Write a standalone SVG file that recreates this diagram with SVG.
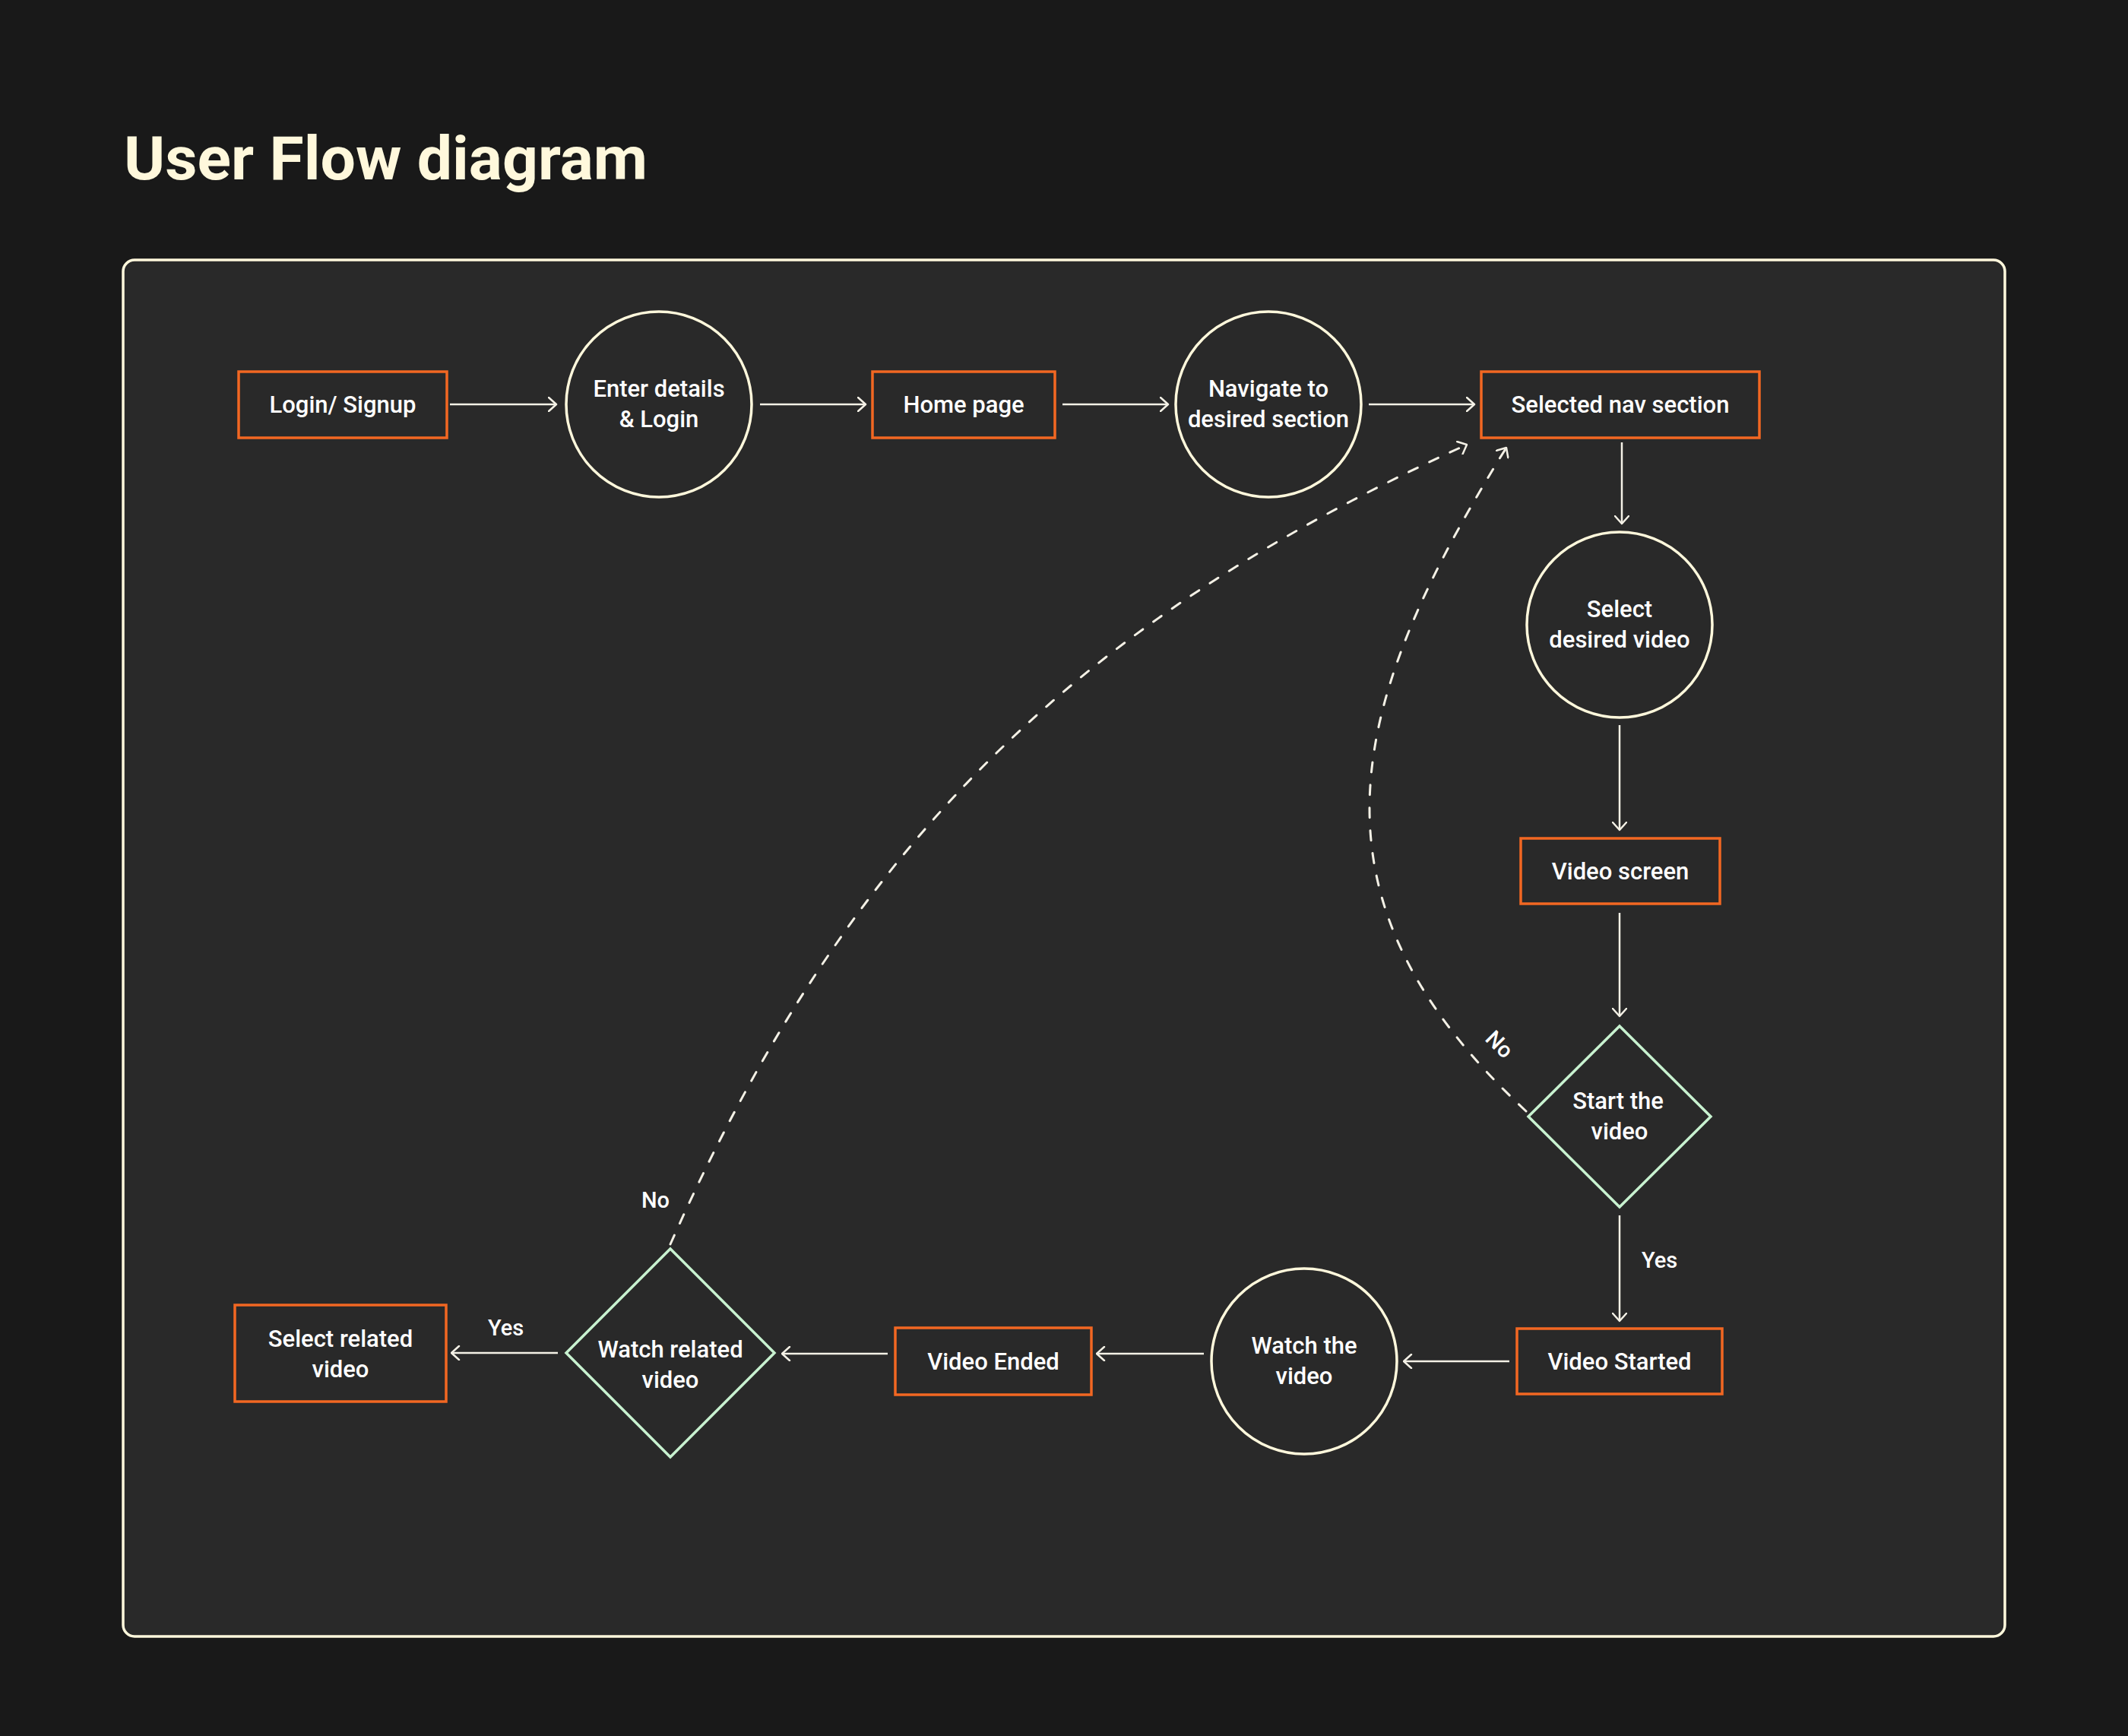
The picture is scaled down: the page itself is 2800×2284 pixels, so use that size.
<svg xmlns="http://www.w3.org/2000/svg" width="2800" height="2284" viewBox="0 0 2800 2284">
  <defs>
    <style>
      .box { fill: none; stroke: #F26722; stroke-width: 3.5; }
      .circ { fill: none; stroke: #FFF8DC; stroke-width: 3.5; }
      .dia { fill: none; stroke: #C8F2D0; stroke-width: 3.5; }
      .lbl { font-family: Roboto, "Liberation Sans", Arial, sans-serif; font-weight: 500; font-size: 31px; fill: #FFFFFF; text-anchor: middle; }
      .tag { font-family: Roboto, "Liberation Sans", Arial, sans-serif; font-weight: 500; font-size: 29px; fill: #FFFFFF; }
      .conn { fill: none; stroke: #F4F1E6; stroke-width: 2.5; }
      .dash { fill: none; stroke: #F4F1E6; stroke-width: 3; stroke-dasharray: 13 17; stroke-linecap: round; }
    </style>
    <marker id="arr" viewBox="0 0 13 20" refX="11.5" refY="10" markerWidth="13" markerHeight="20" markerUnits="userSpaceOnUse" orient="auto">
      <path d="M1.5,1 L11.5,10 L1.5,19" fill="none" stroke="#F4F1E6" stroke-width="2.5" stroke-linecap="round" stroke-linejoin="round"/>
    </marker>
  </defs>

  <rect x="0" y="0" width="2800" height="2284" fill="#191919"/>
  <text x="163" y="236" font-family="Roboto, 'Liberation Sans', Arial, sans-serif" font-weight="700" font-size="80" fill="#FFF8DC" textLength="689" lengthAdjust="spacingAndGlyphs">User Flow diagram</text>
  <rect id="panel" x="162" y="342" width="2476" height="1811" rx="15" ry="15" fill="#292929" stroke="#FFF8DC" stroke-width="3.5"/>

  <g id="connectors">
    <line class="conn" x1="592" y1="532" x2="732" y2="532" marker-end="url(#arr)"/>
    <line class="conn" x1="1000" y1="532" x2="1139" y2="532" marker-end="url(#arr)"/>
    <line class="conn" x1="1398" y1="532" x2="1537" y2="532" marker-end="url(#arr)"/>
    <line class="conn" x1="1801" y1="532" x2="1940" y2="532" marker-end="url(#arr)"/>
    <line class="conn" x1="2134" y1="582" x2="2134" y2="689" marker-end="url(#arr)"/>
    <line class="conn" x1="2131" y1="954" x2="2131" y2="1092" marker-end="url(#arr)"/>
    <line class="conn" x1="2131" y1="1201" x2="2131" y2="1337" marker-end="url(#arr)"/>
    <line class="conn" x1="2131" y1="1599" x2="2131" y2="1738" marker-end="url(#arr)"/>
    <line class="conn" x1="1986" y1="1791" x2="1847" y2="1791" marker-end="url(#arr)"/>
    <line class="conn" x1="1584" y1="1781" x2="1443" y2="1781" marker-end="url(#arr)"/>
    <line class="conn" x1="1168" y1="1781" x2="1029" y2="1781" marker-end="url(#arr)"/>
    <line class="conn" x1="734" y1="1780" x2="594" y2="1780" marker-end="url(#arr)"/>
    <path class="dash" d="M882,1637 C1122,1098 1425,815 1930,585" marker-end="url(#arr)"/>
    <path class="dash" d="M2008,1462 C1710,1184.6 1765.8,935.8 1982,589" marker-end="url(#arr)"/>
    <text class="tag" x="2160" y="1668">Yes</text>
    <text class="tag" x="642" y="1757">Yes</text>
    <text class="tag" x="844" y="1589">No</text>
    <text class="tag" x="0" y="10" text-anchor="middle" transform="translate(1973,1374) rotate(45)">No</text>
  </g>

  <g id="n1">
    <rect class="box" x="314" y="489" width="274" height="87"/>
    <text class="lbl" x="451" y="543">Login/ Signup</text>
  </g>
  <g id="n2">
    <circle class="circ" cx="867" cy="532" r="122"/>
    <text class="lbl" x="867" y="522">Enter details</text>
    <text class="lbl" x="867" y="562">&amp; Login</text>
  </g>
  <g id="n3">
    <rect class="box" x="1148" y="489" width="240" height="87"/>
    <text class="lbl" x="1268" y="543">Home page</text>
  </g>
  <g id="n4">
    <circle class="circ" cx="1669" cy="532" r="122"/>
    <text class="lbl" x="1669" y="522">Navigate to</text>
    <text class="lbl" x="1669" y="562">desired section</text>
  </g>
  <g id="n5">
    <rect class="box" x="1949" y="489" width="366" height="87"/>
    <text class="lbl" x="2132" y="543">Selected nav section</text>
  </g>
  <g id="n6">
    <circle class="circ" cx="2131" cy="822" r="122"/>
    <text class="lbl" x="2131" y="812">Select</text>
    <text class="lbl" x="2131" y="852">desired video</text>
  </g>
  <g id="n7">
    <rect class="box" x="2001" y="1103" width="262" height="86"/>
    <text class="lbl" x="2132" y="1157">Video screen</text>
  </g>
  <g id="n8">
    <polygon class="dia" points="2131,1350 2251,1469 2131,1588 2011,1469"/>
    <text class="lbl" x="2129" y="1459">Start the</text>
    <text class="lbl" x="2131" y="1499">video</text>
  </g>
  <g id="n9">
    <rect class="box" x="1996" y="1748" width="270" height="86"/>
    <text class="lbl" x="2131" y="1802">Video Started</text>
  </g>
  <g id="n10">
    <circle class="circ" cx="1716" cy="1791" r="122"/>
    <text class="lbl" x="1716" y="1781">Watch the</text>
    <text class="lbl" x="1716" y="1821">video</text>
  </g>
  <g id="n11">
    <rect class="box" x="1178" y="1747" width="258" height="88"/>
    <text class="lbl" x="1307" y="1802">Video Ended</text>
  </g>
  <g id="n12">
    <polygon class="dia" points="882,1643 1019,1780 882,1917 745,1780"/>
    <text class="lbl" x="882" y="1786">Watch related</text>
    <text class="lbl" x="882" y="1826">video</text>
  </g>
  <g id="n13">
    <rect class="box" x="309" y="1717" width="278" height="127"/>
    <text class="lbl" x="448" y="1772">Select related</text>
    <text class="lbl" x="448" y="1812">video</text>
  </g>
</svg>
